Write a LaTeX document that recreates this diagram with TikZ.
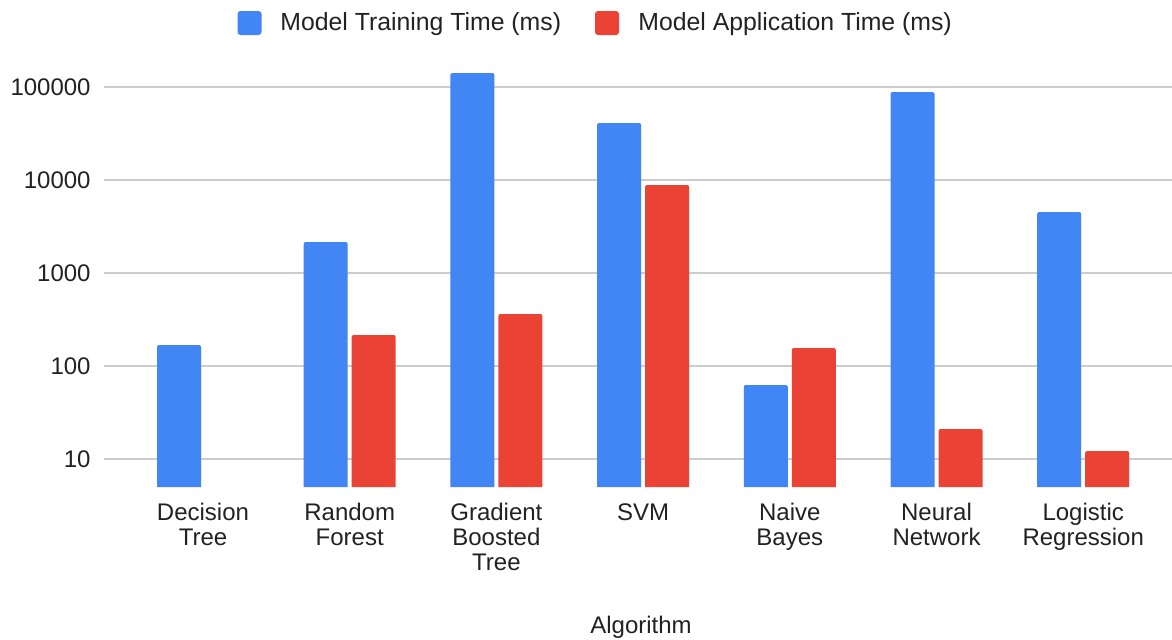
\documentclass[tikz,border=0pt]{standalone}
\usepackage{fontspec}
\setmainfont{Liberation Sans}
\definecolor{gblue}{HTML}{4285F4}
\definecolor{gred}{HTML}{EA4335}
\definecolor{gridc}{HTML}{CCCCCC}
\definecolor{txt}{HTML}{222222}
\begin{document}
\begin{tikzpicture}[x=0.5pt,y=-0.5pt,
  lbl/.style={font=\fontsize{12}{12.5}\selectfont, text=txt, inner sep=0pt},
  leg/.style={lbl, font=\fontsize{12.4}{13}\selectfont},
  xlbl/.style={lbl, align=center, anchor=north},
  gridl/.style={draw=gridc, line width=0.75pt},
  swatch/.style={rounded corners=1.5pt, minimum size=12pt, inner sep=0pt}]
\useasboundingbox (0,0) rectangle (1172,639);
\fill[white] (0,0) rectangle (1172,639);
% gridlines and y labels
\foreach \y/\t [count=\k] in {87/100000,180/10000,273/1000,366/100,459/10}{
  \draw[gridl] (104,\y) -- (1172,\y);
  \node[lbl, anchor=east] (y\k) at (91,\y) {\t};
}
% training bars
\foreach \i/\t in {0/345,1/242,2/73,3/123,4/385,5/92,6/212}{
  \pgfmathsetmacro\c{203+146.7*\i}
  \fill[gblue] (\c-46,487) [rounded corners=1pt] -- (\c-46,\t) -- (\c-2,\t) [sharp corners] -- (\c-2,487) -- cycle;
}
% application bars
\foreach \i/\t in {1/335,2/314,3/185,4/348,5/429,6/451}{
  \pgfmathsetmacro\c{203+146.7*\i}
  \fill[gred] (\c+2,487) [rounded corners=1pt] -- (\c+2,\t) -- (\c+46,\t) [sharp corners] -- (\c+46,487) -- cycle;
}
% category labels
\node[xlbl] (c0) at (203.0,503) {Decision\\Tree};
\node[xlbl] (c1) at (349.7,503) {Random\\Forest};
\node[xlbl] (c2) at (496.4,503) {Gradient\\Boosted\\Tree};
\node[xlbl] (c3) at (643.1,503) {SVM};
\node[xlbl] (c4) at (789.8,503) {Naive\\Bayes};
\node[xlbl] (c5) at (936.5,503) {Neural\\Network};
\node[xlbl] (c6) at (1083.2,503) {Logistic\\Regression};
% axis title
\node[lbl, anchor=base] (xt) at (641,633) {Algorithm};
% legend
\node[swatch, fill=gblue] (sw1) at (249.5,23) {};
\node[leg, anchor=base west] (lg1) at (280,30) {Model Training Time (ms)};
\node[swatch, fill=gred] (sw2) at (607,23) {};
\node[leg, anchor=base west] (lg2) at (638,30) {Model Application Time (ms)};
\end{tikzpicture}
\end{document}
